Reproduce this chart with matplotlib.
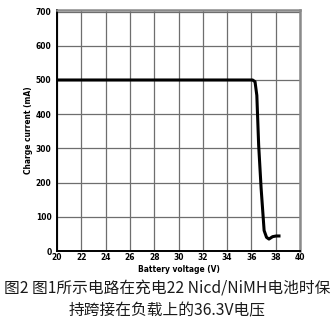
import matplotlib
matplotlib.use("Agg")
import matplotlib.pyplot as plt

plt.rcParams["font.family"] = ["Noto Sans CJK SC", "DejaVu Sans"]

# battery voltage (V) vs charge current (mA)
voltage = [20, 36.1, 36.3, 36.45, 36.6, 36.8, 36.95, 37.05, 37.25, 37.45, 37.75, 38.05, 38.4]
current = [500, 500, 495, 455, 310, 185, 110, 60, 40, 35, 42, 44, 44]

x_ticks = list(range(20, 41, 2))
y_ticks = list(range(0, 701, 100))
caption = ["图2 图1所示电路在充电22 Nicd/NiMH电池时保", "持跨接在负载上的36.3V电压"]

fig = plt.figure(figsize=(3.34, 3.29), dpi=100)
ax = fig.add_axes([0.171, 0.237, 0.727, 0.733])

ax.plot(voltage, current, color="black", linewidth=2.2, solid_capstyle="butt")

ax.set_xlim(20, 40)
ax.set_ylim(0, 705)
ax.set_xticks(x_ticks)
ax.set_yticks(y_ticks)
ax.grid(True, color="#6e6e6e", linewidth=0.9)
ax.tick_params(axis="y", length=0, pad=4)
ax.tick_params(axis="x", length=0, pad=1.5)

tick_font = dict(family="DejaVu Sans", stretch="condensed", weight="bold", size=6)
ax.set_xticklabels([str(v) for v in x_ticks], fontdict=tick_font)
ax.set_yticklabels([str(v) for v in y_ticks], fontdict=tick_font)
ax.set_xlabel("Battery voltage (V)", fontdict=tick_font, labelpad=2)
ax.set_ylabel("Charge current (mA)", fontdict=tick_font, labelpad=2)

for side in ["left", "bottom"]:
    ax.spines[side].set_color("black")
    ax.spines[side].set_linewidth(1.4)
for side in ["top", "right"]:
    ax.spines[side].set_color("#8a8a8a")
    ax.spines[side].set_linewidth(1.8)

fig.text(0.5, 1 - 289 / 329, caption[0], ha="center", va="center", fontsize=11.3,
         weight="medium", color="#1a1a1a")
fig.text(0.5, 1 - 311 / 329, caption[1], ha="center", va="center", fontsize=11.3,
         weight="medium", color="#1a1a1a")

fig.savefig("out.png", dpi=100)
